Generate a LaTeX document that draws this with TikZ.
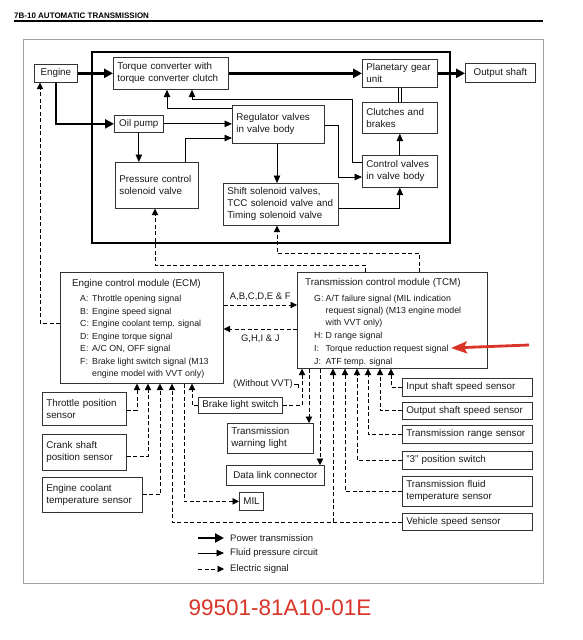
\documentclass[tikz,border=0pt]{standalone}
\usepackage{fontspec}
\setmainfont{Liberation Sans}
\usetikzlibrary{arrows.meta,calc}
\definecolor{redmark}{RGB}{217,52,40}
\definecolor{framegray}{RGB}{160,160,160}
\begin{document}
\begin{tikzpicture}[x=1pt,y=-1pt,
  bx/.style={draw=black!80, line width=0.7pt, inner xsep=4pt, inner ysep=0pt, anchor=north west, font=\fontsize{9.8}{12}\selectfont, text=black!90},
  bl/.style={bx, align=left},
  power/.style={line width=2.6pt, -{Triangle[length=9pt,width=9pt]}},
  fluid/.style={line width=0.8pt, -{Triangle[length=7.5pt,width=6.5pt]}},
  elec/.style={line width=0.8pt, dash pattern=on 4pt off 2.5pt, -{Triangle[length=6.5pt,width=6.5pt]}},
  lbl/.style={font=\fontsize{9.5}{12}\selectfont, text=black!90, inner sep=1pt},
  sig/.style={font=\fontsize{8.8}{12}\selectfont, text=black!90, align=left, inner sep=0pt, anchor=north west},
]
\useasboundingbox (0,0) rectangle (582,640);

% header
\node[anchor=base west, inner sep=0pt, font=\bfseries\fontsize{8}{9}\selectfont] (hdr) at (14,18.5) {7B-10 AUTOMATIC TRANSMISSION};
\draw[line width=1.3pt] (14,21) -- (543,21);
\draw[framegray, line width=0.9pt] (23,39) rectangle (543,583);

% inner thick frame
\draw[line width=2.6pt] (92,52) rectangle (450,243);

% upper boxes
\node[bx, minimum width=43pt, minimum height=18pt] (engine) at (34,64) {Engine};
\node[bl, text width=107pt, minimum height=32pt] (tc) at (113,57) {Torque converter with\\torque converter clutch};
\node[bl, text width=67pt, minimum height=28pt] (pgu) at (362,59) {Planetary gear\\unit};
\node[bx, minimum width=70pt, minimum height=19pt] (out) at (465,63) {Output shaft};
\node[bx, minimum width=49pt, minimum height=17pt] (oil) at (114,115) {Oil pump};
\node[bl, text width=84pt, minimum height=38pt] (reg) at (232,105) {Regulator valves\\in valve body};
\node[bl, text width=67pt, minimum height=31pt] (clutch) at (362,102) {Clutches and\\brakes};
\node[bl, text width=75pt, minimum height=46pt] (pcsv) at (115,162) {Pressure control\\solenoid valve};
\node[bl, text width=67pt, minimum height=32pt] (ctrl) at (362,155) {Control valves\\in valve body};
\node[bl, text width=107pt, minimum height=42pt] (shift) at (223,183) {Shift solenoid valves,\\TCC solenoid valve and\\Timing solenoid valve};

% modules
\node[bx, minimum width=163pt, minimum height=111pt] (ecm) at (60,272) {};
\node[bx, minimum width=190pt, minimum height=96pt] (tcm) at (297,272) {};
\node[sig] (ecmtxt) at (72,279.5) {{\fontsize{9.8}{12}\selectfont Engine control module (ECM)}\\[3pt]
\hspace*{8pt}\makebox[12pt][l]{A:}Throttle opening signal\\[0.5pt]
\hspace*{8pt}\makebox[12pt][l]{B:}Engine speed signal\\[0.5pt]
\hspace*{8pt}\makebox[12pt][l]{C:}Engine coolant temp. signal\\[0.5pt]
\hspace*{8pt}\makebox[12pt][l]{D:}Engine torque signal\\[0.5pt]
\hspace*{8pt}\makebox[12pt][l]{E:}A/C ON, OFF signal\\[0.5pt]
\hspace*{8pt}\makebox[12pt][l]{F:}Brake light switch signal (M13\\
\hspace*{20pt}engine model with VVT only)};
\node[sig] (tcmtxt) at (305,278.5) {{\fontsize{9.8}{12}\selectfont Transmission control module (TCM)}\\[4pt]
\hspace*{9pt}\makebox[11.5pt][l]{G:}A/T failure signal (MIL indication\\
\hspace*{20.5pt}request signal) (M13 engine model\\
\hspace*{20.5pt}with VVT only)\\[1pt]
\hspace*{9pt}\makebox[11.5pt][l]{H:}D range signal\\[1pt]
\hspace*{9pt}\makebox[11.5pt][l]{I:}Torque reduction request signal\\[1pt]
\hspace*{9pt}\makebox[11.5pt][l]{J:}ATF temp. signal};

% lower boxes
\node[bl, text width=76pt, minimum height=33pt] (tps) at (42,392) {Throttle position\\sensor};
\node[bl, text width=76pt, minimum height=36pt] (csps) at (42,434) {Crank shaft\\position sensor};
\node[bl, text width=92pt, minimum height=35pt] (ects) at (42,477) {Engine coolant\\temperature sensor};
\node[bx, minimum width=84pt, minimum height=16pt] (bls) at (198,397) {Brake light switch};
\node[bl, text width=78pt, minimum height=30pt] (twl) at (227,423) {Transmission\\warning light};
\node[bx, minimum width=98pt, minimum height=20pt] (dlc) at (226,465) {Data link connector};
\node[bx, minimum width=24pt, minimum height=18pt] (mil) at (239,492) {MIL};
\node[bl, text width=122pt, minimum height=18pt] (iss) at (402,378) {Input shaft speed sensor};
\node[bl, text width=122pt, minimum height=17pt] (oss) at (402,402) {Output shaft speed sensor};
\node[bl, text width=122pt, minimum height=18pt] (trs) at (402,425) {Transmission range sensor};
\node[bl, text width=122pt, minimum height=18pt] (p3) at (402,451) {"3" position switch};
\node[bl, text width=122pt, minimum height=30pt] (tft) at (402,476) {Transmission fluid\\temperature sensor};
\node[bl, text width=122pt, minimum height=17pt] (vss) at (402,513) {Vehicle speed sensor};

% power transmission
\draw[power] (engine.east) -- (tc.west);
\draw[power] (engine.south) |- (oil.west);
\draw[power] (tc.east) -- (pgu.west);
\draw[power] (pgu.east) -- (out.west |- pgu.east);

% fluid pressure
\draw[fluid] (oil.east) -- (oil.east -| reg.west);
\draw[fluid] (oil.south) -- (oil.south |- pcsv.north);
\draw[fluid] (pcsv.north -| 185,0) |- (reg.west |- 0,138);
\draw[fluid] (reg.south -| 277,0) -- (shift.north -| 277,0);
\draw[fluid] (reg.east |- 0,125) -| (338,177) -- (ctrl.west |- 0,177);
\draw[fluid] (ctrl.north) -- (clutch.south);
\draw[fluid] (shift.east |- 0,208) -| (ctrl.south);
\draw[fluid] (reg.west |- 0,108) -| (tc.south -| 167,0);
\draw[fluid] (ctrl.west |- 0,162) -| (352,99) -| (tc.south -| 192,0);
\draw[line width=0.7pt, double distance=2.5pt] (pgu.south) -- (clutch.north);

% electric signals
\draw[elec] (tcm.north -| 365,0) |- (155,265) -- (pcsv.south -| 155,0);
\draw[elec] (tcm.north -| 419,0) |- (277,253) -- (shift.south -| 277,0);
\draw[elec] (ecm.west |- 0,323) -| (engine.south -| 40,0);
\draw[elec] (ecm.east |- 0,305) -- node[lbl, above=3pt] (lab1) {A,B,C,D,E \& F} (tcm.west |- 0,305);
\draw[elec] (tcm.west |- 0,329) -- node[lbl, below=4pt] (lab2) {G,H,I \& J} (ecm.east |- 0,329);
\draw[elec] (tps.east |- 0,410) -| (ecm.south -| 137,0);
\draw[elec] (csps.east |- 0,456) -| (ecm.south -| 148,0);
\draw[elec] (ects.east) -| (ecm.south -| 160,0);
\coordinate (vj) at (333,522);
\draw[elec] (vss.west |- 0,522) -| (ecm.south -| 172,0);
\draw[elec] (vj) -- (tcm.south -| vj);
\draw[elec] (ecm.south -| 184,0) |- (mil.west);
\draw[elec] (bls.west) -| (ecm.south -| 192,0);
\draw[elec] (bls.east) -| (tcm.south -| 302,0);
\draw[elec] (tcm.south -| 309,0) -- (twl.north -| 309,0);
\draw[elec] (tcm.south -| 320,0) -- (dlc.north -| 320,0);
\draw[elec] (iss.west) -| (tcm.south -| 391,0);
\draw[elec] (oss.west) -| (tcm.south -| 380,0);
\draw[elec] (trs.west) -| (tcm.south -| 368,0);
\draw[elec] (p3.west) -| (tcm.south -| 357,0);
\draw[elec] (tft.west) -| (tcm.south -| 345,0);

\node[lbl, anchor=east] (wo) at (294,384) {(Without VVT)};
\draw[line width=0.6pt] (wo.east) -- ++(4,0) -- ++(0,4);

% red marker arrow
\coordinate (rs) at (529,345);
\coordinate (re) at (451,348);
\draw[redmark, line width=2.8pt, -{Stealth[length=16pt,width=12pt,inset=3pt]}] (rs) -- (re);

% legend
\node[lbl, anchor=west] (lg1) at (229,538) {Power transmission};
\node[lbl, anchor=west] (lg2) at (229,553) {Fluid pressure circuit};
\node[lbl, anchor=west] (lg3) at (229,569) {Electric signal};
\draw[power] ([xshift=-31pt]lg1.west) -- ([xshift=-5pt]lg1.west);
\draw[fluid] ([xshift=-31pt]lg2.west) -- ([xshift=-5pt]lg2.west);
\draw[elec] ([xshift=-31pt]lg3.west) -- ([xshift=-5pt]lg3.west);

% document code
\node[text=redmark, font=\fontsize{22.5}{27}\selectfont, inner sep=0pt] (code) at (280,608) {99501-81A10-01E};
\end{tikzpicture}
\end{document}
